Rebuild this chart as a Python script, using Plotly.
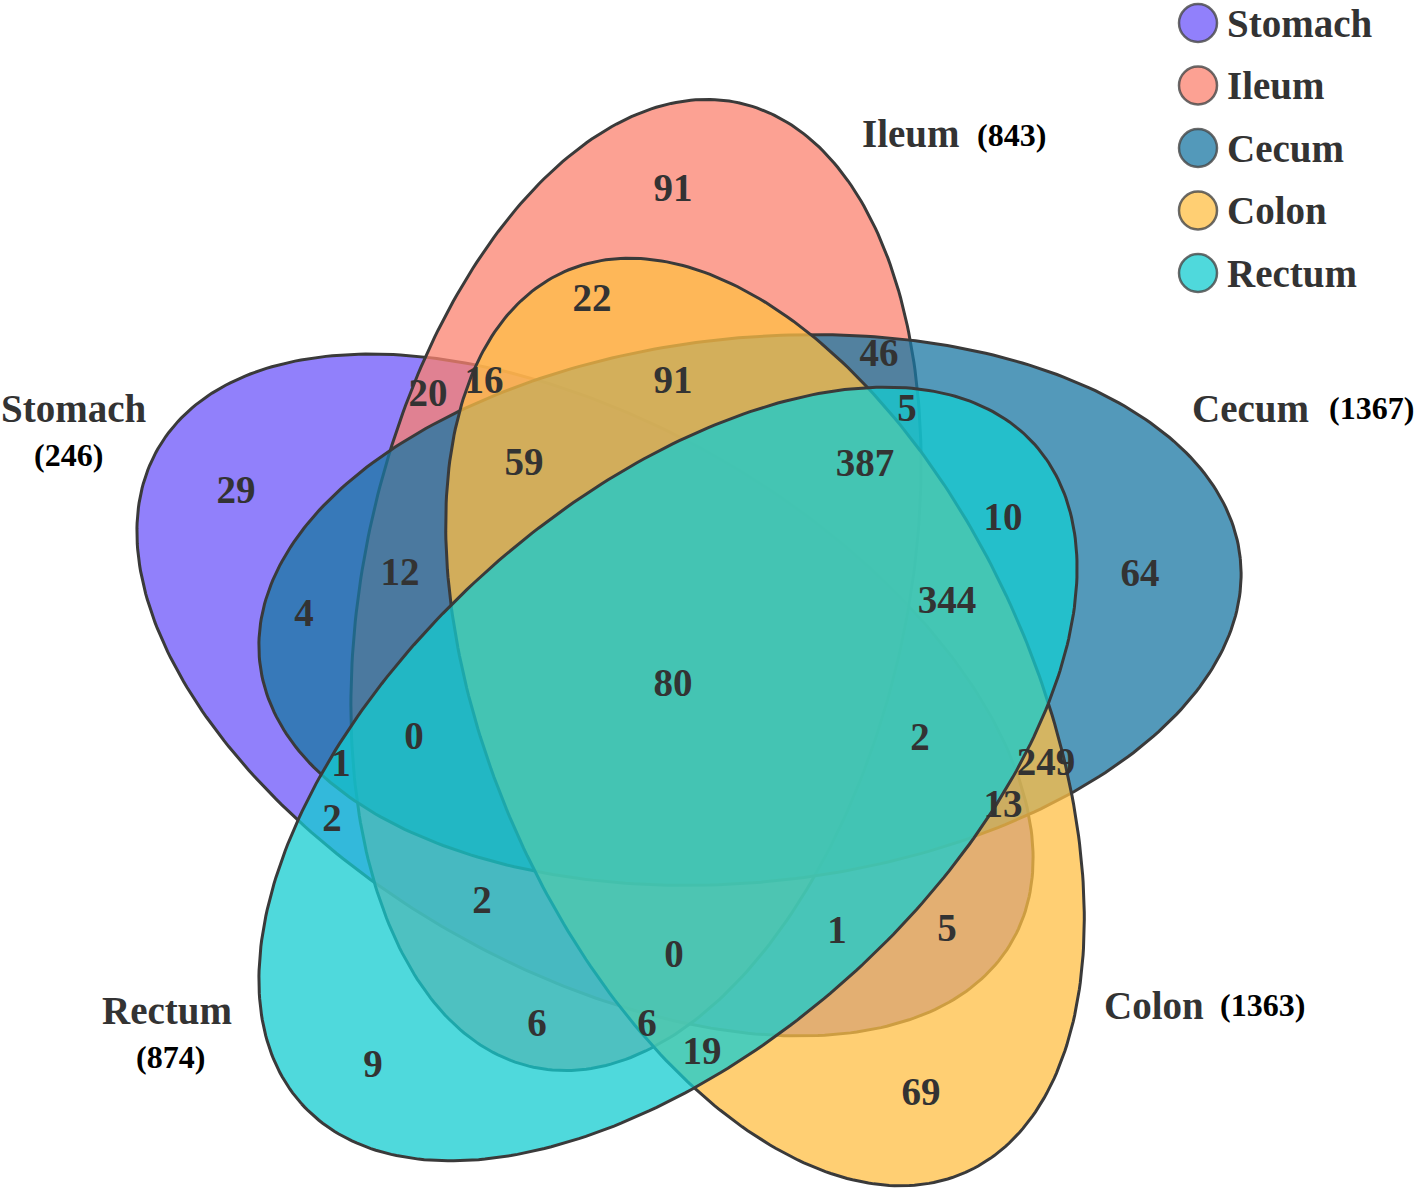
import numpy as np
import plotly.graph_objects as go

# set names, totals and colours (drawn in this order, Rectum on top)
set_names = ["Stomach", "Ileum", "Cecum", "Colon", "Rectum"]
set_keys = ["S", "I", "C", "O", "R"]
set_totals = [246, 843, 1367, 1363, 874]
set_colors = ["108,86,250", "251,130,111", "26,119,163", "255,191,68", "20,204,208"]

# region counts, keyed by which sets the region belongs to
region_sets = ["I", "C", "O", "R", "S",
               "IO", "IC", "SI", "CR", "SC", "CO", "SR", "SO", "IR", "OR",
               "ICO", "SIO", "ICR", "SIC", "COR", "SCR", "SCO", "SIR", "SOR", "IOR",
               "SICO", "ICOR", "SICR", "SCOR", "SIOR",
               "SICOR"]
region_counts = [91, 64, 69, 9, 29,
                 22, 46, 20, 10, 4, 249, 2, 5, 6, 19,
                 91, 16, 5, 12, 344, 1, 13, 2, 1, 6,
                 59, 387, 0, 2, 0,
                 80]

# ---- layout (page pixels) ----
W, H = 1423, 1188
ALPHA = 0.75
A_AX, B_AX = 493, 272    # semi axes
# ellipse centres and major-axis tilt (degrees clockwise from vertical)
ELLIPSE = {
    "I": (636, 585, 12),
    "C": (750, 610, 84),
    "O": (765, 722, 156),
    "R": (668, 774, 228),
    "S": (585, 695, 300),
}

LABEL_XY = {
    "I": (673, 188), "C": (1140, 573), "O": (921, 1092), "R": (373, 1064), "S": (236, 490),
    "IO": (592, 298), "IC": (879, 353), "SI": (428, 393), "CR": (1003, 517), "SC": (304, 613),
    "CO": (1046, 762), "SR": (332, 818), "SO": (947, 928), "IR": (537, 1023), "OR": (702, 1051),
    "ICO": (673, 380), "SIO": (484, 380), "ICR": (907, 408), "SIC": (400, 572), "COR": (947, 600),
    "SCR": (341, 763), "SCO": (1003, 804), "SIR": (482, 900), "SOR": (837, 930), "IOR": (647, 1023),
    "SICO": (524, 462), "ICOR": (865, 463), "SICR": (414, 736), "SCOR": (920, 737), "SIOR": (674, 954),
    "SICOR": (673, 683),
}
TEXT_DY = 3  # text "middle" sits a bit high in plotly

# set label placement: (name x, name y, name anchor, count x, count y, count anchor)
SET_LABEL_POS = {
    "S": (73, 408, "center", 68, 455, "center"),
    "I": (860, 133, "left", 975, 135, "left"),
    "C": (1190, 408, "left", 1327, 408, "left"),
    "O": (1102, 1005, "left", 1218, 1005, "left"),
    "R": (167, 1010, "center", 170, 1057, "center"),
}
LEGEND_X, LEGEND_Y0, LEGEND_DY = 1198, 23, 62.5

FONT = "Liberation Serif, Times New Roman, serif"


def ellipse_xy(key):
    cx, cy, tilt = ELLIPSE[key]
    tilt = np.radians(tilt)
    t = np.linspace(0, 2 * np.pi, 361)
    d = np.array([np.sin(tilt), -np.cos(tilt)])
    n = np.array([np.cos(tilt), np.sin(tilt)])
    x = cx + A_AX * np.cos(t) * d[0] + B_AX * np.sin(t) * n[0]
    y = cy + A_AX * np.cos(t) * d[1] + B_AX * np.sin(t) * n[1]
    return x, y


fig = go.Figure()

for key, name, col in zip(set_keys, set_names, set_colors):
    x, y = ellipse_xy(key)
    fig.add_trace(go.Scatter(
        x=x, y=y, mode="lines", fill="toself",
        fillcolor=f"rgba({col},{ALPHA})",
        line=dict(color="#3a3a3a", width=3),
        hoverinfo="skip", showlegend=False, name=name,
    ))

# region counts
fig.add_trace(go.Scatter(
    x=[LABEL_XY[k][0] for k in region_sets],
    y=[LABEL_XY[k][1] + TEXT_DY for k in region_sets],
    text=[str(v) for v in region_counts],
    mode="text", textposition="middle center",
    textfont=dict(family=FONT, size=39, color="#333333", weight="bold"),
    hoverinfo="skip", showlegend=False,
))

# set names with totals
for key, name, total in zip(set_keys, set_names, set_totals):
    nx, ny, na, tx, ty, ta = SET_LABEL_POS[key]
    fig.add_annotation(x=nx, y=ny, text=name, showarrow=False, xanchor=na, yanchor="middle",
                       font=dict(family=FONT, size=39, color="#333333", weight="bold"))
    fig.add_annotation(x=tx, y=ty, text=f"({total})", showarrow=False, xanchor=ta, yanchor="middle",
                       font=dict(family=FONT, size=32, color="#000000", weight="bold"))

# legend
for i, (name, col) in enumerate(zip(set_names, set_colors)):
    ly = LEGEND_Y0 + i * LEGEND_DY
    fig.add_trace(go.Scatter(
        x=[LEGEND_X], y=[ly], mode="markers",
        marker=dict(size=38, color=f"rgba({col},{ALPHA})",
                    line=dict(color="rgba(70,70,70,0.8)", width=2.5)),
        hoverinfo="skip", showlegend=False,
    ))
    fig.add_annotation(x=LEGEND_X + 27, y=ly, text=name, showarrow=False, xanchor="left",
                       yanchor="middle",
                       font=dict(family=FONT, size=39, color="#333333", weight="bold"))

fig.update_layout(
    width=W, height=H, autosize=False,
    margin=dict(l=0, r=0, t=0, b=0),
    paper_bgcolor="white", plot_bgcolor="white",
    xaxis=dict(range=[0, W], visible=False, fixedrange=True),
    yaxis=dict(range=[H, 0], visible=False, fixedrange=True),
)

# the page body has a default 8px margin; drop it so the plot sits at 0,0
fig.write_html("out.html", config={"displayModeBar": False},
               post_script="document.body.style.margin='0px';")
